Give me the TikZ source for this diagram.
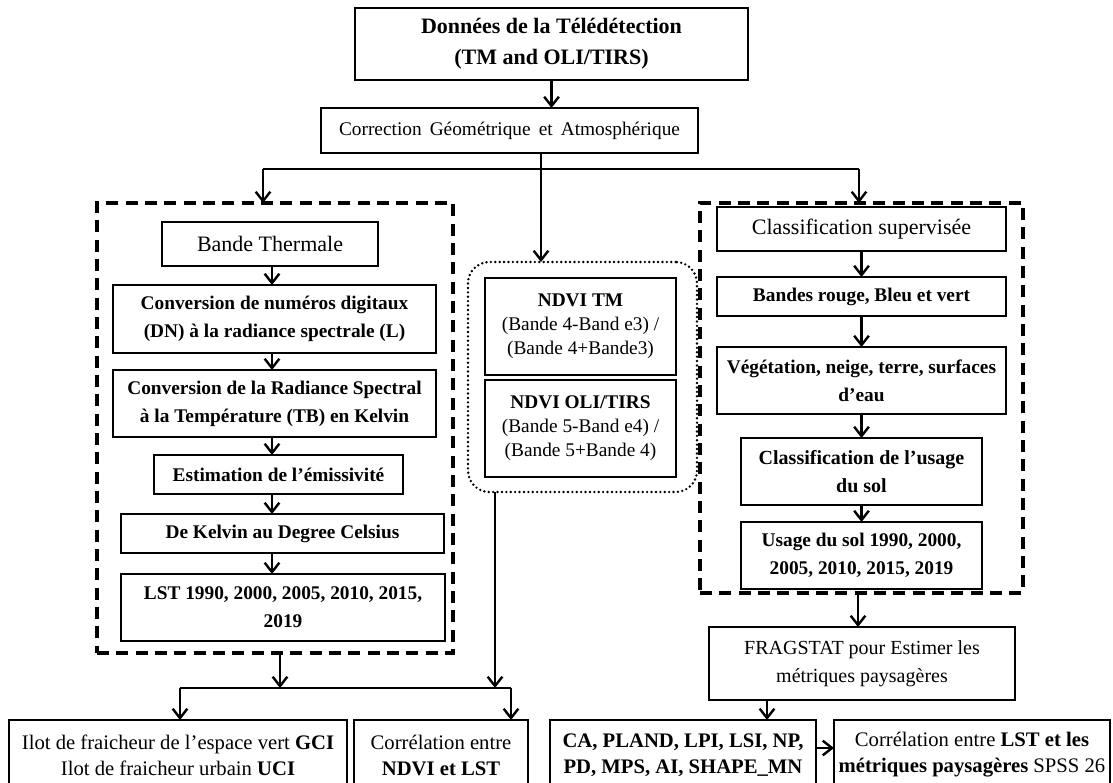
\documentclass[tikz,border=0pt]{standalone}
\usepackage{fontspec}
\setmainfont{Liberation Serif}
\usetikzlibrary{arrows.meta}
\tikzset{
  bx/.style={draw, line width=1.1pt, align=center, inner sep=0pt, outer sep=0pt, font=\fontsize{14.5}{20}\selectfont},
  sz/.style 2 args={minimum width=#1*0.75pt, minimum height=#2*0.75pt},
  conn/.style={line width=2pt},
  arr/.style={conn, -{Straight Barb[length=7pt,width=11pt,line width=1.8pt]}},
  dbox/.style={draw, line width=2.4pt, dash pattern=on 9pt off 5.5pt, inner sep=0pt, outer sep=0pt},
  dotbox/.style={draw, line width=2pt, dash pattern=on 0pt off 3.3pt, line cap=round, rounded corners=16pt, inner sep=0pt, outer sep=0pt},
  hdr/.style={font=\fontsize{16.5}{21}\selectfont},
  bot/.style={font=\fontsize{15.5}{19.5}\selectfont}
}
\begin{document}
\begin{tikzpicture}[x=0.75pt, y=-0.75pt]
\useasboundingbox (0,0) rectangle (1113,782);
\clip (0,0) rectangle (1113,782);

% top
\node[bx, sz={393}{72}, font=\fontsize{16.5}{23}\selectfont\bfseries] (top) at (551.5,44) {Données de la Télédétection\\(TM and OLI/TIRS)};
\node[bx, sz={377}{45}, font=\fontsize{14.5}{20}\selectfont] (corr) at (509.5,130.5) {Correction\ \,Géométrique\ \,et\ \,Atmosphérique};

% groups
\node[dbox, sz={356}{450}] (lgrp) at (275,428) {};
\node[dbox, sz={323}{390}] (rgrp) at (861.5,398) {};
\node[dotbox, sz={229}{230}] (ngrp) at (582.5,377) {};

% left column
\node[bx, hdr, sz={216}{44}] (therm) at (270,244) {Bande Thermale};
\node[bx, sz={323}{68}, font=\fontsize{14.5}{21}\selectfont\bfseries] (dn) at (274.5,319) {Conversion de numéros digitaux\\(DN) à la radiance spectrale (L)};
\node[bx, sz={323}{67}, font=\fontsize{14.5}{21}\selectfont\bfseries] (rad) at (274.5,403.5) {Conversion de la Radiance Spectral\\à la Température (TB) en Kelvin};
\node[bx, sz={249}{39}, font=\fontsize{14.5}{20}\selectfont\bfseries] (emis) at (278.5,474.5) {Estimation de l’émissivité};
\node[bx, sz={323}{39}, font=\fontsize{14.5}{20}\selectfont\bfseries] (kel) at (282.5,533.5) {De Kelvin au Degree Celsius};
\node[bx, sz={324}{67}, font=\fontsize{14.5}{21}\selectfont\bfseries] (lst) at (283,607.5) {LST 1990, 2000, 2005, 2010, 2015,\\2019};

% middle
\node[bx, sz={191}{97}, font=\fontsize{14.5}{18}\selectfont] (ndvia) at (580.5,326.5) {\textbf{NDVI TM}\\(Bande 4-Band e3) /\\(Bande 4+Bande3)};
\node[bx, sz={191}{97}, font=\fontsize{14.5}{18}\selectfont] (ndvib) at (580.5,428.5) {\textbf{NDVI OLI/TIRS}\\(Bande 5-Band e4) /\\(Bande 5+Bande 4)};

% right column
\node[bx, hdr, sz={289}{44}] (cls) at (861.5,229) {Classification\ supervisée};
\node[bx, sz={289}{39}, font=\fontsize{14.5}{20}\selectfont\bfseries] (bands) at (861.5,296.5) {Bandes rouge, Bleu et vert};
\node[bx, sz={289}{67}, font=\fontsize{14.5}{21}\selectfont\bfseries] (veg) at (861.5,380.5) {Végétation, neige, terre, surfaces\\d’eau};
\node[bx, sz={241}{67}, font=\fontsize{15}{21}\selectfont\bfseries] (clsu) at (861.5,471.5) {Classification de l’usage\\du sol};
\node[bx, sz={241}{67}, font=\fontsize{14.5}{21}\selectfont\bfseries] (usage) at (861.5,555.5) {Usage du sol 1990, 2000,\\2005, 2010, 2015, 2019};
\node[bx, sz={306}{73}, font=\fontsize{15}{21}\selectfont] (frag) at (862,663.5) {FRAGSTAT pour Estimer les\\métriques paysagères};

% bottom
\node[bx, bot, sz={338}{70}] (gci) at (178,755) {Ilot de fraicheur de l’espace vert \textbf{GCI}\\Ilot de fraicheur urbain \textbf{UCI}};
\node[bx, bot, sz={174}{70}] (cndvi) at (441,755) {Corrélation entre\\\textbf{NDVI et LST}};
\node[bx, bot, sz={266}{70}, font=\fontsize{15.5}{19.5}\selectfont\bfseries] (ca) at (683,755) {CA, PLAND, LPI, LSI, NP,\\PD, MPS, AI, SHAPE\_MN};
\node[bx, bot, sz={276}{70}] (cland) at (972,755) {Corrélation entre \textbf{LST et les}\\\textbf{métriques paysagères} SPSS 26};

% coordinates
\coordinate (barL) at (263,169);
\coordinate (barR) at (859,169);
\coordinate (xmid) at (541,169);
\coordinate (xl) at (272,0);
\coordinate (lbL) at (180,688);
\coordinate (lbR) at (511,688);
\coordinate (xlg) at (280,0);
\coordinate (xnd) at (495,0);
\coordinate (xrg) at (858,0);
\coordinate (xfr) at (767,0);
\coordinate (yca) at (0,748);

% connectors
\draw[arr] (top.south) -- (corr.north -| top.south);
\draw[conn] (corr.south -| xmid) -- (xmid);
\draw[conn] (barL) -- (barR);
\draw[arr] (barL) -- (lgrp.north -| barL);
\draw[arr] (barR) -- (rgrp.north -| barR);
\draw[arr] (xmid) -- (ngrp.north -| xmid);

\draw[arr] (therm.south -| xl) -- (dn.north -| xl);
\draw[arr] (dn.south -| xl) -- (rad.north -| xl);
\draw[arr] (rad.south -| xl) -- (emis.north -| xl);
\draw[arr] (emis.south -| xl) -- (kel.north -| xl);
\draw[arr] (kel.south -| xl) -- (lst.north -| xl);

\draw[arr] (cls.south) -- (bands.north);
\draw[arr] (bands.south) -- (veg.north);
\draw[arr] (veg.south) -- (clsu.north);
\draw[arr] (clsu.south) -- (usage.north);

\draw[arr] (lgrp.south -| xlg) -- (lbL -| xlg);
\draw[arr] (ngrp.south -| xnd) -- (lbL -| xnd);
\draw[conn] (lbL) -- (lbR);
\draw[arr] (lbL) -- (gci.north -| lbL);
\draw[arr] (lbR) -- (cndvi.north -| lbR);

\draw[arr] (rgrp.south -| xrg) -- (frag.north -| xrg);
\draw[arr] (frag.south -| xfr) -- (ca.north -| xfr);
\draw[arr] (ca.east |- yca) -- (cland.west |- yca);
\end{tikzpicture}
\end{document}
